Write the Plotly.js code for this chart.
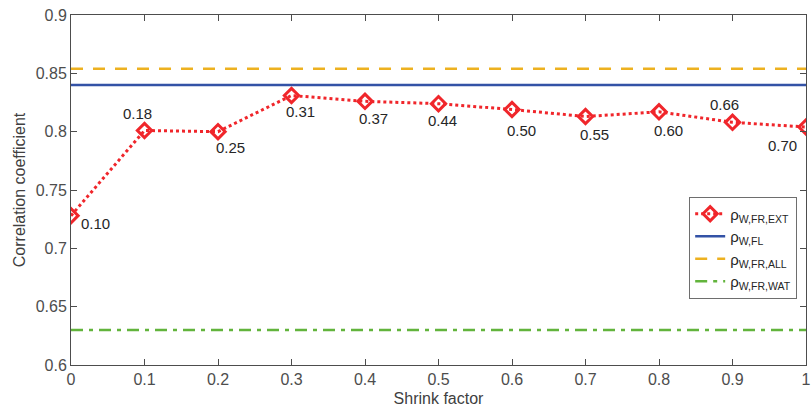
<!DOCTYPE html>
<html>
<head>
<meta charset="utf-8">
<script src="https://cdn.plot.ly/plotly-3.0.1.min.js"></script>
<style>html,body{margin:0;padding:0;background:#fff;}#chart{width:812px;height:412px;}</style>
</head>
<body>
<div id="chart"></div>
<script>
// ---- data ----
const shrinkFactor = [0, 0.1, 0.2, 0.3, 0.4, 0.5, 0.6, 0.7, 0.8, 0.9, 1.0];
const rhoExt = [0.728, 0.801, 0.800, 0.831, 0.826, 0.824, 0.819, 0.813, 0.817, 0.808, 0.804];
const pointLabels = ["0.10", "0.18", "0.25", "0.31", "0.37", "0.44", "0.50", "0.55", "0.60", "0.66", "0.70"];
const rhoFL = 0.840;
const rhoAll = 0.854;
const rhoWat = 0.630;
const xTickVals = [0, 0.1, 0.2, 0.3, 0.4, 0.5, 0.6, 0.7, 0.8, 0.9, 1];
const xTickText = ["0", "0.1", "0.2", "0.3", "0.4", "0.5", "0.6", "0.7", "0.8", "0.9", "1"];
const yTickVals = [0.6, 0.65, 0.7, 0.75, 0.8, 0.85, 0.9];
const yTickText = ["0.6", "0.65", "0.7", "0.75", "0.8", "0.85", "0.9"];
const seriesNames = ["ρ<sub>W,FR,EXT</sub>", "ρ<sub>W,FL</sub>", "ρ<sub>W,FR,ALL</sub>", "ρ<sub>W,FR,WAT</sub>"];

// ---- label placement (pixel offsets, style only) ----
const labelDx = [24, -7, 12, 9, 8, 4, 9, 9, 9, -8, -24];
const labelDy = [8, -17, 16, 16, 17, 17, 21, 18, 19, -18, 18];

const xEnds = [shrinkFactor[0], shrinkFactor[shrinkFactor.length - 1]];
const FONT = 'Liberation Sans, Arial, Helvetica, sans-serif';

const traces = [
  {
    x: shrinkFactor, y: rhoExt, name: seriesNames[0], type: 'scatter', mode: 'lines+markers',
    line: {color: '#f0262b', width: 3, dash: 'dot'},
    marker: {symbol: 'diamond-open', size: 11, color: '#f0262b', line: {width: 3, color: '#f0262b'}}
  },
  {
    x: xEnds, y: [rhoFL, rhoFL], name: seriesNames[1], type: 'scatter', mode: 'lines',
    line: {color: '#3352a6', width: 2.5}
  },
  {
    x: xEnds, y: [rhoAll, rhoAll], name: seriesNames[2], type: 'scatter', mode: 'lines',
    line: {color: '#edb120', width: 2.5, dash: '12px,10px'}
  },
  {
    x: xEnds, y: [rhoWat, rhoWat], name: seriesNames[3], type: 'scatter', mode: 'lines',
    line: {color: '#62b43c', width: 2.5, dash: '12px,6px,4px,6px'}
  }
];

const annotations = shrinkFactor.map((xv, i) => ({
  x: xv, y: rhoExt[i], xref: 'x', yref: 'y', text: pointLabels[i], showarrow: false,
  xshift: labelDx[i], yshift: -labelDy[i],
  font: {family: FONT, size: 15, color: '#262626'}
}));

const axisCommon = {
  showgrid: false, zeroline: false, showline: true, linecolor: '#4d4d4d', linewidth: 1,
  mirror: 'ticks', ticks: 'inside', ticklen: 6, tickcolor: '#4d4d4d', tickwidth: 1,
  ticklabeloverflow: 'allow',
  tickfont: {family: FONT, size: 16, color: '#4d4d4d'}
};

const layout = {
  width: 812, height: 412,
  margin: {l: 71, r: 6, t: 15, b: 47},
  paper_bgcolor: '#ffffff', plot_bgcolor: '#ffffff',
  font: {family: FONT, color: '#404040'},
  xaxis: Object.assign({}, axisCommon, {
    range: [0, 1], tickvals: xTickVals, ticktext: xTickText,
    title: {text: 'Shrink factor', font: {size: 16, color: '#404040'}, standoff: 5}
  }),
  yaxis: Object.assign({}, axisCommon, {
    range: [0.6, 0.9], tickvals: yTickVals, ticktext: yTickText,
    title: {text: 'Correlation coefficient', font: {size: 16, color: '#404040'}, standoff: 6}
  }),
  legend: {
    x: 0.988, y: 0.19, xanchor: 'right', yanchor: 'bottom',
    bgcolor: '#ffffff', bordercolor: '#6e6e6e', borderwidth: 1,
    font: {family: FONT, size: 15, color: '#262626'},
    itemwidth: 30, tracegroupgap: 0
  },
  annotations: annotations,
  showlegend: true
};

Plotly.newPlot('chart', traces, layout, {displayModeBar: false, staticPlot: true});
</script>
</body>
</html>
